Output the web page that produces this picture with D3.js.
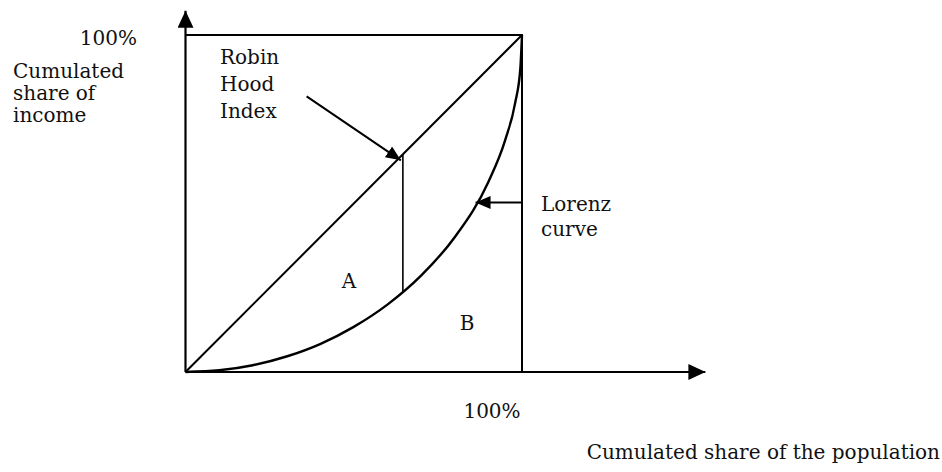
<!DOCTYPE html>
<meta charset="utf-8">
<title>Lorenz curve and Robin Hood index</title>
<style>
  body { margin: 0; background: #fff; }
  svg text { font-family: "DejaVu Serif", "Liberation Serif", serif; }
</style>
<body>
<script src="https://d3js.org/d3.v7.min.js"></script>
<script>

var width = 942,
    height = 472;

// Lorenz curve (share of population -> share of income)
var popShare    = [0, 0.1, 0.2, 0.3, 0.4, 0.5, 0.6, 0.7, 0.8, 0.9, 0.95, 0.98, 0.995, 1.0];
var incomeShare = [0, 0.005, 0.02, 0.046, 0.083, 0.134, 0.2, 0.286, 0.4, 0.564, 0.688, 0.8, 0.9, 1.0];

// Robin Hood index: vertical gap between equality line and the curve
var robinP = 0.646, robinL = 0.235;
// annotation arrows (data units)
var robinArrow  = [[0.36, 0.818], [0.64, 0.628]];
var lorenzArrow = [[1.0, 0.503], [0.862, 0.503]];

var axisMax = { x: 1.545, y: 1.072 };

var x = d3.scaleLinear().domain([0, 1]).range([185.5, 522]);
var y = d3.scaleLinear().domain([0, 1]).range([372, 35]);

var svg = d3.select("body").append("svg")
    .attr("width", width)
    .attr("height", height)
    .attr("font-size", 20);

var defs = svg.append("defs");
function marker(id, w, h) {
  defs.append("marker")
      .attr("id", id)
      .attr("viewBox", "0 0 " + w + " " + h)
      .attr("refX", w).attr("refY", h / 2)
      .attr("markerWidth", w).attr("markerHeight", h)
      .attr("markerUnits", "userSpaceOnUse")
      .attr("orient", "auto")
    .append("path")
      .attr("d", "M0,0L" + w + "," + h / 2 + "L0," + h + "Z")
      .attr("fill", "#000");
}
marker("bigArrow", 17, 16);
marker("smallArrow", 15, 13);

var line = d3.line().x(function(d) { return x(d[0]); }).y(function(d) { return y(d[1]); });

// axes
svg.append("path")
    .attr("d", line([[0, 0], [axisMax.x, 0]]))
    .attr("stroke", "#000").attr("stroke-width", 2.2)
    .attr("marker-end", "url(#bigArrow)");
svg.append("path")
    .attr("d", line([[0, 0], [0, axisMax.y]]))
    .attr("stroke", "#000").attr("stroke-width", 2.2)
    .attr("marker-end", "url(#bigArrow)");

// box: top and right edges
svg.append("path")
    .attr("d", line([[0, 1], [1, 1], [1, 0]]))
    .attr("fill", "none").attr("stroke", "#000").attr("stroke-width", 2);

// equality line
svg.append("path")
    .attr("d", line([[0, 0], [1, 1]]))
    .attr("stroke", "#000").attr("stroke-width", 2);

// Lorenz curve
var curvePts = popShare.map(function(p, i) { return [p, incomeShare[i]]; });
svg.append("path")
    .attr("d", line.curve(d3.curveMonotoneX)(curvePts))
    .attr("fill", "none").attr("stroke", "#000").attr("stroke-width", 2.4);
line.curve(d3.curveLinear);

// Robin Hood gap
svg.append("path")
    .attr("d", line([[robinP, robinP], [robinP, robinL]]))
    .attr("stroke", "#000").attr("stroke-width", 1.6);

// pointer arrows
svg.append("path")
    .attr("d", line(robinArrow))
    .attr("stroke", "#000").attr("stroke-width", 2)
    .attr("marker-end", "url(#smallArrow)");
svg.append("path")
    .attr("d", line(lorenzArrow))
    .attr("stroke", "#000").attr("stroke-width", 2)
    .attr("marker-end", "url(#smallArrow)");

// labels
function label(txt, px, py, anchor) {
  return svg.append("text").attr("x", px).attr("y", py)
      .attr("text-anchor", anchor || "start")
      .attr("fill", "#111")
      .text(txt);
}
label("100%", 137, 45, "end");
label("Cumulated", 13, 78);
label("share of", 13, 100);
label("income", 13, 122);

label("Robin", 220, 64);
label("Hood", 220, 91);
label("Index", 220, 118);

label("Lorenz", 541, 211);
label("curve", 541, 236);

label("A", 349, 288, "middle");
label("B", 467, 330, "middle");

label("100%", 492, 418, "middle");
label("Cumulated share of the population", 940, 459, "end");

</script>
